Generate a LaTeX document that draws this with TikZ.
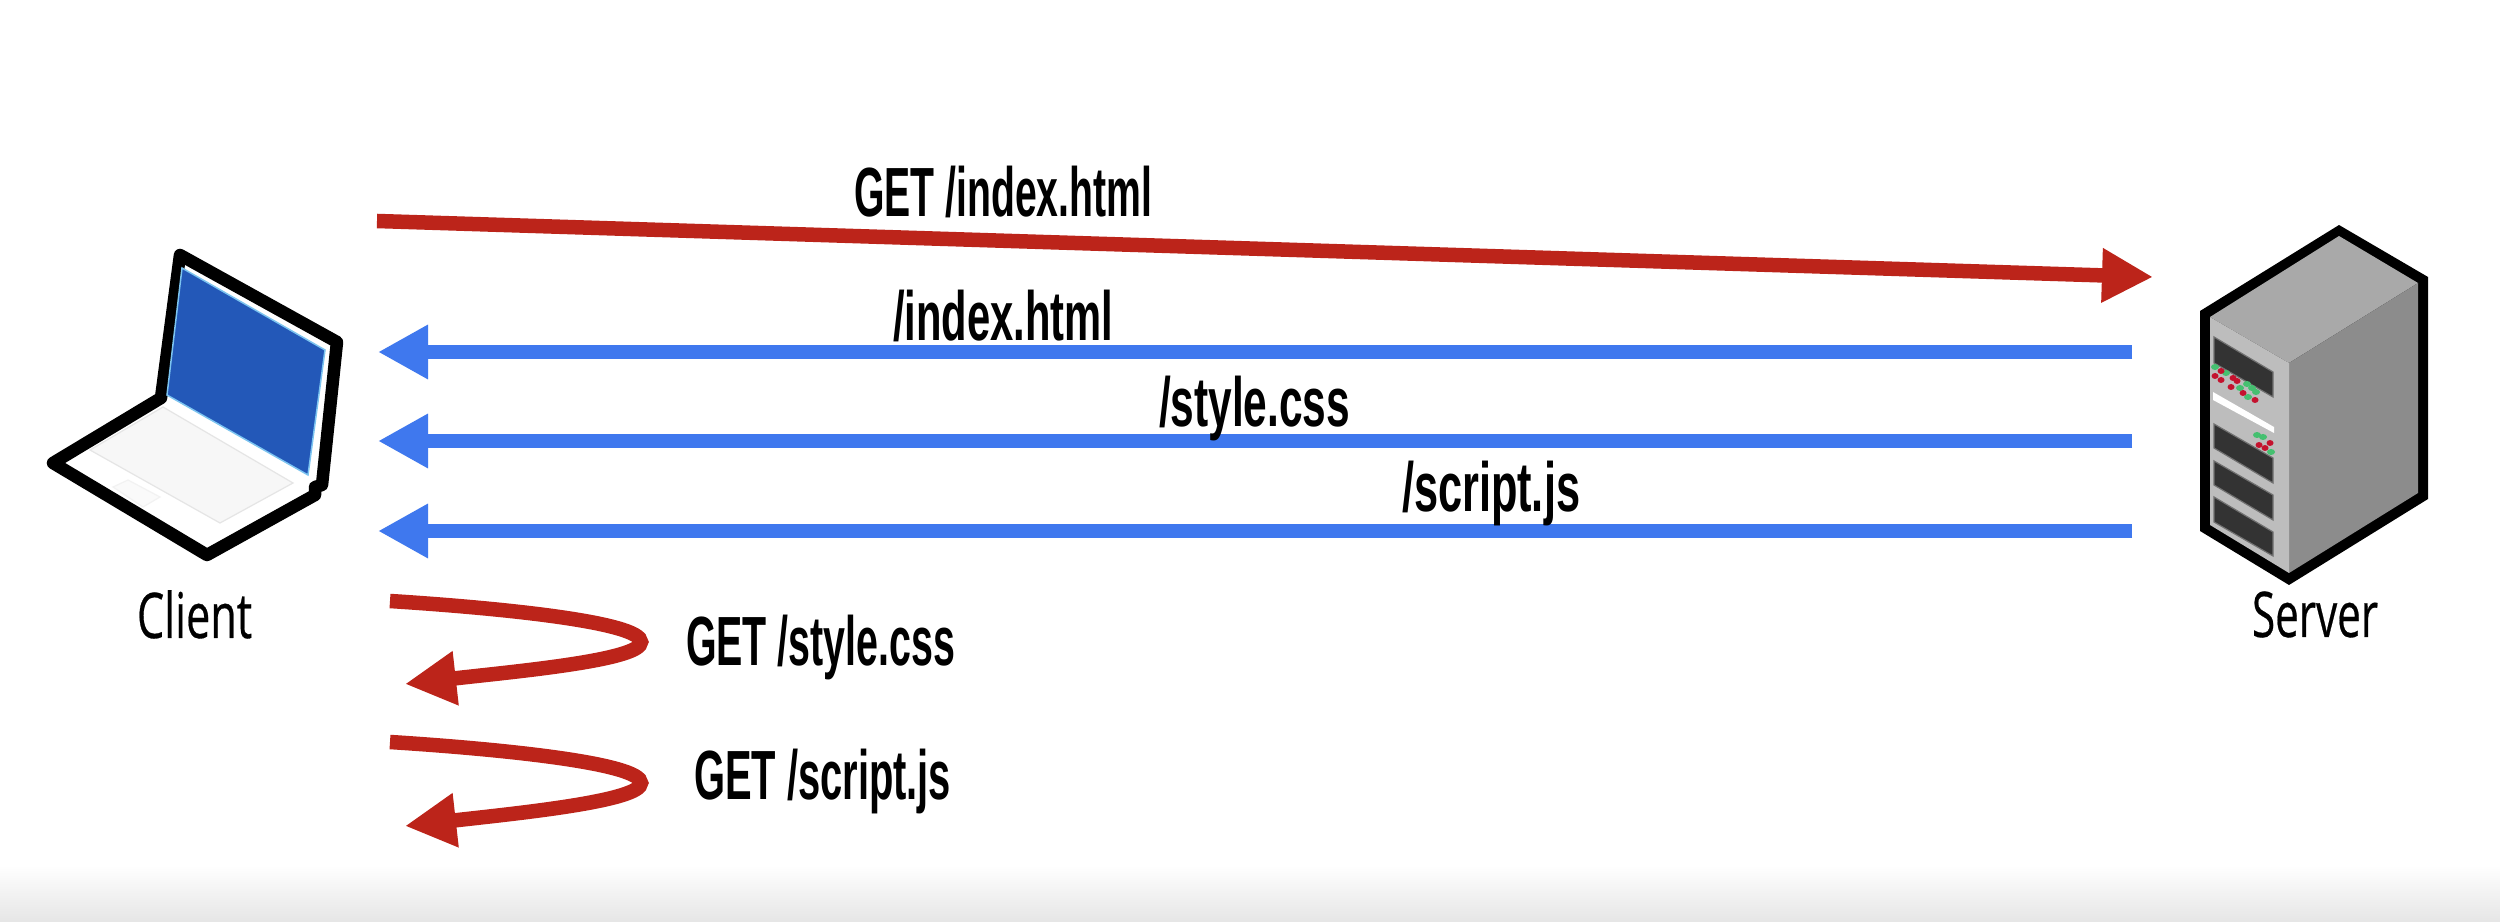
\documentclass[tikz,border=0pt]{standalone}
\usepackage{fontspec}
\usepackage{graphicx}
\setmainfont{Liberation Sans}
\newfontfamily\capfont[FakeBold=0.5]{Open Sans}
\usetikzlibrary{arrows.meta}
\definecolor{redarrow}{HTML}{BC241A}
\definecolor{bluearrow}{HTML}{3F78EE}
\definecolor{screenblue}{HTML}{2358B8}
\definecolor{screenedge}{HTML}{7CC4F0}
\definecolor{srvtop}{HTML}{A9A9A9}
\definecolor{srvside}{HTML}{8C8C8C}
\definecolor{srvfront}{HTML}{BDBDBD}
\definecolor{srvbay}{HTML}{333333}
\definecolor{ledgreen}{HTML}{45C070}
\definecolor{ledred}{HTML}{C4122E}
\newcommand{\getlabel}[2]{\resizebox{#1}{\height}{\fontsize{19.8pt}{24pt}\selectfont\bfseries #2}}
\newcommand{\caplabel}[2]{\resizebox{#1}{\height}{\capfont\fontsize{17.9pt}{22pt}\selectfont #2}}
\tikzset{
  lbl/.style={anchor=base west,inner sep=0pt,outer sep=0pt,text=black},
  reqarrow/.style={draw=redarrow,line width=0.145cm,-{Triangle[length=0.51cm,width=0.51cm]}},
  resarrow/.style={draw=bluearrow,line width=0.135cm,-{Triangle[length=0.50cm,width=0.51cm]}},
  baybox/.style={fill=srvbay,draw=srvfront!60!black,line width=0.012cm},
  devline/.style={draw=black,line width=0.125cm,line join=round}
}
\begin{document}
\begin{tikzpicture}[x=0.01cm,y=-0.01cm]
\useasboundingbox (0,0) rectangle (2500,922);
\fill[white] (0,0) rectangle (2500,922);
\shade[top color=white,bottom color=black!10,draw=none] (0,865) rectangle (2500,922);

% laptop
\path[fill=white,devline] (180,255) -- (337,342) -- (322,485) -- (315,487) -- (315,495) -- (207,555) -- (53,463) -- (161,398) -- cycle;
\path[fill=black!3,draw=black!10,line width=0.012cm] (90,450) -- (163,407) -- (293,483) -- (220,523) -- cycle;
\path[fill=black!2,draw=black!5,line width=0.012cm] (113,487) -- (128,480) -- (160,497) -- (143,507) -- cycle;
\path[fill=screenblue,draw=screenedge,line width=0.015cm] (182,268) -- (325,350) -- (308,475) -- (167,395) -- cycle;

% server
\fill[black] (2339,225) -- (2428,277) -- (2428,499) -- (2289,585) -- (2200,531) -- (2200,311) -- cycle;
\fill[srvtop] (2339,236) -- (2418,283) -- (2289,363) -- (2210,317) -- cycle;
\fill[srvside] (2418,283) -- (2418,493) -- (2289,573) -- (2289,363) -- cycle;
\fill[srvfront] (2210,317) -- (2289,363) -- (2289,573) -- (2210,525) -- cycle;
\path[baybox] (2214,337) -- (2273,372) -- (2273,397) -- (2214,363) -- cycle;
\fill[white] (2213,392) -- (2274,427) -- (2274,433) -- (2213,400) -- cycle;
\path[baybox] (2214,424) -- (2273,458) -- (2273,483) -- (2214,448) -- cycle;
\path[baybox] (2214,461) -- (2273,495) -- (2273,520) -- (2214,485) -- cycle;
\path[baybox] (2214,497) -- (2273,532) -- (2273,556) -- (2214,522) -- cycle;
\foreach \p in {(2215,367),(2226,373),(2240,388),(2248,397),(2247,384),(2252,388),(2256,392),(2257,435),(2263,437),(2271,452)}
  \fill[ledgreen] \p ellipse (4 and 3);
\foreach \p in {(2221,371),(2215,376),(2221,380),(2233,378),(2237,381),(2231,387),(2243,393),(2255,400),(2270,443),(2259,445),(2265,448)}
  \fill[ledred] \p ellipse (3.5 and 3);

% captions
\node[lbl] (client) at (137,638) {\caplabel{1.15cm}{Client}};
\node[lbl] (server) at (2252,637) {\caplabel{1.26cm}{Server}};

% connector ends
\coordinate (reqstart) at (377,221);
\coordinate (reqend) at (2153,277);
\foreach \n/\y in {a/352,b/441,c/531}{
  \coordinate (srv\n) at (2132,\y);
  \coordinate (cli\n) at (378,\y);
}
\coordinate (selfAstart) at (390,601);
\coordinate (selfAapex) at (641,642);
\coordinate (selfAend) at (405,684);
\coordinate (selfBstart) at (390,742);
\coordinate (selfBapex) at (641,783);
\coordinate (selfBend) at (405,826);

% connectors
\draw[reqarrow] (reqstart) -- (reqend);
\draw[resarrow] (srva) -- (clia);
\draw[resarrow] (srvb) -- (clib);
\draw[resarrow] (srvc) -- (clic);
\draw[reqarrow] (selfAstart) .. controls (500,608) and (641,622) .. (selfAapex) .. controls (641,660) and (520,671) .. (selfAend);
\draw[reqarrow] (selfBstart) .. controls (500,749) and (641,763) .. (selfBapex) .. controls (641,801) and (520,813) .. (selfBend);

% labels
\node[lbl] (l1) at (854,217) {\getlabel{2.98cm}{GET /index.html}};
\node[lbl] (l2) at (893,341) {\getlabel{2.20cm}{/index.html}};
\node[lbl] (l3) at (1159,427) {\getlabel{1.91cm}{/style.css}};
\node[lbl] (l4) at (1402,512) {\getlabel{1.78cm}{/script.js}};
\node[lbl] (l5) at (686,666) {\getlabel{2.69cm}{GET /style.css}};
\node[lbl] (l6) at (694,800) {\getlabel{2.57cm}{GET /script.js}};
\end{tikzpicture}
\end{document}
